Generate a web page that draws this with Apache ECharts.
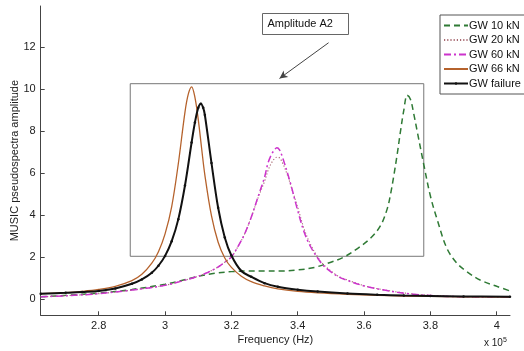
<!DOCTYPE html>
<html>
<head>
<meta charset="utf-8">
<script src="https://cdn.jsdelivr.net/npm/echarts@6/dist/echarts.min.js"></script>
<style>
  html, body { margin: 0; padding: 0; background: #fff; }
  #chart { width: 524px; height: 351px; }
</style>
</head>
<body>
<div id="chart"></div>
<script>
// Frequencies are in units of 10^5 Hz
const seriesNames = ['GW 10 kN', 'GW 20 kN', 'GW 60 kN', 'GW 66 kN', 'GW failure'];

const freq10 = [2.625, 2.7, 2.8, 2.9, 3.0, 3.05, 3.1, 3.15, 3.2, 3.25, 3.3, 3.35, 3.4, 3.45, 3.5, 3.54, 3.58, 3.62, 3.65, 3.67, 3.68, 3.69, 3.70, 3.71, 3.72, 3.73, 3.74, 3.75, 3.76, 3.78, 3.80, 3.82, 3.85, 3.88, 3.91, 3.95, 4.0, 4.04];
const amp10 = [0.1, 0.17, 0.28, 0.45, 0.7, 0.88, 1.08, 1.22, 1.3, 1.33, 1.33, 1.33, 1.38, 1.5, 1.75, 2.0, 2.4, 2.9, 3.5, 4.3, 5.0, 5.9, 6.9, 8.0, 9.0, 9.7, 9.5, 8.8, 8.0, 6.4, 4.9, 3.8, 2.4, 1.7, 1.3, 0.9, 0.6, 0.38];

const freqMid = [2.625, 2.7, 2.8, 2.9, 3.0, 3.05, 3.1, 3.13, 3.16, 3.18, 3.2, 3.22, 3.24, 3.26, 3.28, 3.30, 3.31, 3.32, 3.33, 3.337, 3.345, 3.355, 3.37, 3.38, 3.40, 3.42, 3.44, 3.46, 3.48, 3.52, 3.55, 3.60, 3.65, 3.70, 3.75, 3.80, 3.85, 3.92, 4.0, 4.04];
const amp20 = [0.1, 0.15, 0.25, 0.42, 0.65, 0.85, 1.08, 1.27, 1.52, 1.75, 2.0, 2.5, 3.1, 3.9, 4.8, 5.6, 6.1, 6.45, 6.68, 6.75, 6.72, 6.45, 5.85, 5.35, 4.35, 3.3, 2.55, 2.0, 1.6, 1.1, 0.9, 0.63, 0.46, 0.33, 0.23, 0.17, 0.13, 0.1, 0.09, 0.08];
const amp60 = [0.1, 0.15, 0.25, 0.42, 0.65, 0.85, 1.08, 1.27, 1.52, 1.75, 2.0, 2.5, 3.1, 3.9, 4.85, 5.8, 6.45, 6.85, 7.1, 7.2, 7.1, 6.7, 5.95, 5.4, 4.2, 3.15, 2.45, 1.95, 1.55, 1.08, 0.88, 0.62, 0.45, 0.32, 0.22, 0.16, 0.12, 0.1, 0.09, 0.08];

const freq66 = [2.625, 2.7, 2.75, 2.8, 2.85, 2.9, 2.93, 2.96, 2.98, 3.0, 3.02, 3.04, 3.06, 3.07, 3.08, 3.09, 3.10, 3.11, 3.12, 3.14, 3.16, 3.18, 3.20, 3.23, 3.26, 3.30, 3.34, 3.40, 3.46, 3.55, 3.64, 3.72, 3.80, 3.90, 4.04];
const amp66 = [0.25, 0.3, 0.36, 0.45, 0.6, 0.87, 1.17, 1.7, 2.25, 3.1, 4.4, 6.45, 8.9, 9.75, 10.1, 9.6, 8.55, 7.2, 5.9, 3.95, 2.7, 1.95, 1.5, 1.08, 0.82, 0.62, 0.48, 0.36, 0.29, 0.22, 0.17, 0.14, 0.12, 0.1, 0.09];

const freqFail = [2.625, 2.7, 2.75, 2.8, 2.85, 2.9, 2.93, 2.96, 2.98, 3.0, 3.02, 3.04, 3.06, 3.08, 3.09, 3.10, 3.108, 3.115, 3.12, 3.14, 3.16, 3.18, 3.20, 3.23, 3.26, 3.30, 3.34, 3.40, 3.46, 3.55, 3.64, 3.72, 3.80, 3.90, 4.04];
const ampFail = [0.25, 0.29, 0.33, 0.38, 0.5, 0.72, 0.93, 1.25, 1.58, 2.05, 2.75, 3.8, 5.4, 7.45, 8.4, 9.1, 9.3, 9.1, 8.76, 6.47, 4.34, 2.93, 2.07, 1.33, 1.05, 0.75, 0.58, 0.44, 0.35, 0.26, 0.2, 0.16, 0.14, 0.12, 0.1];

const xTicks = [2.8, 3.0, 3.2, 3.4, 3.6, 3.8, 4.0];
const yTicks = [0, 2, 4, 6, 8, 10, 12];

// Highlighted region "Amplitude A2" and its pointer arrow (data coordinates)
const regionA2 = [[2.895, 2.03], [3.78, 10.25]];
const arrowA2 = [[3.493, 12.2], [3.345, 10.5]];

const FONT = '"Liberation Sans", Arial, sans-serif';
const pair = (xs, ys) => xs.map((x, i) => [x, ys[i]]);

const chart = echarts.init(document.getElementById('chart'), null, { renderer: 'canvas' });

const baseLine = {
  type: 'line',
  smooth: 0.35,
  symbol: 'none',
  animation: false,
  z: 3
};

// Legend entries: plain line swatches, plus a dot marker for the failure trace
const hidden = { opacity: 0 };
const legendData = seriesNames.map((n, i) =>
  i === seriesNames.length - 1 ? { name: n } : { name: n, itemStyle: hidden });

chart.setOption({
  backgroundColor: '#fff',
  animation: false,
  grid: { left: 40.7, right: 14, top: 6, bottom: 35.7, containLabel: false, outerBoundsMode: 'none' },
  legend: {
    orient: 'vertical',
    left: 440,
    top: 15,
    width: 120,
    padding: [5, 30, 5, 3],
    itemGap: 3.5,
    itemWidth: 24,
    itemHeight: 3,
    borderColor: '#555',
    borderWidth: 1,
    backgroundColor: '#fff',
    textStyle: { fontFamily: FONT, fontSize: 11, color: '#111', padding: [0, 0, 0, -4], lineHeight: 11 },
    data: legendData
  },
  xAxis: {
    type: 'value',
    min: 2.625,
    max: 4.04,
    name: 'Frequency (Hz)',
    nameLocation: 'middle',
    nameGap: 19,
    nameMoveOverlap: false,
    nameTextStyle: { fontFamily: FONT, fontSize: 11, color: '#222' },
    axisLine: { onZero: false, lineStyle: { color: '#444', width: 1 } },
    axisTick: { inside: true, length: 4, customValues: xTicks, lineStyle: { color: '#444' } },
    axisLabel: {
      customValues: xTicks,
      margin: 5,
      fontFamily: FONT, fontSize: 11, color: '#222',
      formatter: v => String(Math.round(v * 10) / 10)
    },
    splitLine: { show: false }
  },
  yAxis: {
    type: 'value',
    min: -0.78,
    max: 13.95,
    name: 'MUSIC pseudospectra amplitude',
    nameLocation: 'middle',
    nameGap: 20,
    nameMoveOverlap: false,
    nameTextStyle: { fontFamily: FONT, fontSize: 11, color: '#222' },
    axisLine: { show: true, onZero: false, lineStyle: { color: '#444', width: 1 } },
    axisTick: { show: true, inside: true, length: 4, customValues: yTicks, lineStyle: { color: '#444' } },
    axisLabel: { customValues: yTicks, margin: 5, fontFamily: FONT, fontSize: 11, color: '#222' },
    splitLine: { show: false }
  },
  series: [
    Object.assign({}, baseLine, {
      name: 'GW 10 kN',
      data: pair(freq10, amp10),
      itemStyle: { color: '#2f7a35' },
      lineStyle: { color: '#2f7a35', width: 1.5, type: [6, 4] },
      markArea: {
        silent: true,
        itemStyle: { color: 'rgba(0,0,0,0)', borderColor: '#777', borderWidth: 1 },
        data: [[{ coord: regionA2[0] }, { coord: regionA2[1] }]]
      },
      markLine: {
        silent: true,
        symbol: ['none', 'arrow'],
        symbolSize: [6, 8],
        label: { show: false },
        lineStyle: { color: '#444', width: 1, type: 'solid' },
        data: [[{ coord: arrowA2[0] }, { coord: arrowA2[1] }]]
      }
    }),
    Object.assign({}, baseLine, {
      name: 'GW 20 kN',
      data: pair(freqMid, amp20),
      itemStyle: { color: '#a86a72' },
      lineStyle: { color: '#a86a72', width: 1.1, type: [1.2, 2] }
    }),
    Object.assign({}, baseLine, {
      name: 'GW 60 kN',
      data: pair(freqMid, amp60),
      itemStyle: { color: '#cc33cc' },
      lineStyle: { color: '#cc33cc', width: 1.5, type: [7, 3, 2, 3] }
    }),
    Object.assign({}, baseLine, {
      name: 'GW 66 kN',
      data: pair(freq66, amp66),
      itemStyle: { color: '#b5622c' },
      lineStyle: { color: '#b5622c', width: 1.3 }
    }),
    Object.assign({}, baseLine, {
      name: 'GW failure',
      data: pair(freqFail, ampFail),
      symbol: 'circle',
      symbolSize: 2.5,
      showSymbol: true,
      itemStyle: { color: '#111' },
      lineStyle: { color: '#111', width: 2 },
      z: 4
    })
  ],
  graphic: [
    {
      type: 'group',
      left: 262,
      top: 13,
      children: [
        { type: 'rect', shape: { x: 0, y: 0, width: 86, height: 21 },
          style: { fill: '#fff', stroke: '#666', lineWidth: 1 } },
        { type: 'text', x: 5, y: 10.5,
          style: { text: 'Amplitude A2', font: '11px ' + FONT, fill: '#111', verticalAlign: 'middle' } }
      ]
    },
    {
      type: 'text',
      left: 484,
      top: 337,
      style: {
        text: 'x 10{sup|5}',
        font: '10px ' + FONT,
        fill: '#222',
        rich: { sup: { fontSize: 7, verticalAlign: 'top', padding: [0, 0, 6, 0], fontFamily: FONT } }
      }
    }
  ]
});
</script>
</body>
</html>
